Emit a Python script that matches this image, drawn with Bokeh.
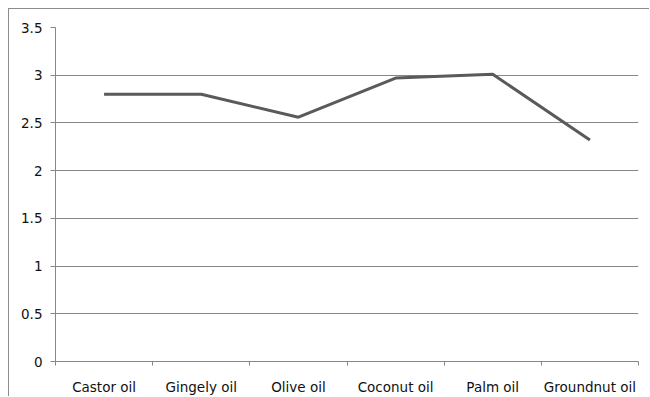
from bokeh.plotting import figure
from bokeh.models import Range1d, FixedTicker
from bokeh.embed import file_html
from bokeh.resources import INLINE

categories = ["Castor oil", "Gingely oil", "Olive oil", "Coconut oil", "Palm oil", "Groundnut oil"]
values = [2.80, 2.80, 2.56, 2.97, 3.01, 2.32]
y_ticks = [0, 0.5, 1, 1.5, 2, 2.5, 3, 3.5]
y_tick_labels = ["0", "0.5", "1", "1.5", "2", "2.5", "3", "3.5"]

xs = [i + 0.5 for i in range(len(categories))]

p = figure(width=641, height=388, output_backend="svg", toolbar_location=None,
           x_range=Range1d(0, len(categories)), y_range=Range1d(0, 3.5),
           min_border_left=46, min_border_right=12, min_border_top=18, min_border_bottom=35,
           margin=(8, 0, 0, 8),
           styles={"border-top": "1px solid #8c8c8c", "border-left": "1px solid #8c8c8c"})
p.outline_line_color = None
p.background_fill_color = "white"
p.border_fill_color = "white"

p.line(xs, values, line_color="#5a5a5a", line_width=3)

FONT = "DejaVu Sans"
GRAY = "#878787"

xa = p.xaxis[0]
xa.ticker = FixedTicker(ticks=xs, minor_ticks=list(range(len(categories) + 1)))
xa.major_label_overrides = {x: c for x, c in zip(xs, categories)}
xa.major_tick_line_color = None
xa.major_tick_out = 0
xa.major_tick_in = 0
xa.minor_tick_line_color = GRAY
xa.minor_tick_out = 4
xa.minor_tick_in = 0
xa.axis_line_color = GRAY
xa.major_label_standoff = 13
xa.major_label_text_font = FONT
xa.major_label_text_font_size = "13.5px"
xa.major_label_text_color = "#111111"

ya = p.yaxis[0]
ya.ticker = FixedTicker(ticks=y_ticks)
ya.major_label_overrides = {t: l for t, l in zip(y_ticks, y_tick_labels)}
ya.major_tick_line_color = GRAY
ya.major_tick_out = 5
ya.major_tick_in = 0
ya.minor_tick_line_color = None
ya.axis_line_color = GRAY
ya.major_label_standoff = 8
ya.major_label_text_font = FONT
ya.major_label_text_font_size = "13.5px"
ya.major_label_text_color = "#111111"

p.xgrid.grid_line_color = None
p.ygrid.grid_line_color = GRAY
p.ygrid.grid_line_width = 1

open("out.html", "w").write(file_html(p, INLINE))
